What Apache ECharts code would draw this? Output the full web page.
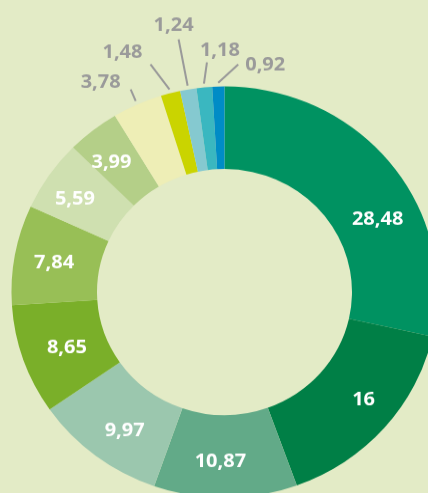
<!DOCTYPE html>
<html>
<head>
<meta charset="utf-8">
<script src="https://cdn.jsdelivr.net/npm/echarts@6/dist/echarts.min.js"></script>
<style>
  html, body { margin: 0; padding: 0; background: #e3ebc6; overflow: hidden; }
  #main { width: 428px; height: 511px; transform: scaleY(0.965); transform-origin: 0 0; }
</style>
</head>
<body>
<div id="main"></div>
<script>
const values = [28.48, 16, 10.87, 9.97, 8.65, 7.84, 5.59, 3.99, 3.78, 1.48, 1.24, 1.18, 0.92];
const colors = ['#009261', '#007f46', '#62aa88', '#9bc7ae', '#7aaf29', '#98bf56', '#cfe0b0',
                '#b4cf88', '#eeeeb6', '#cad400', '#85c9d0', '#3ab7c0', '#008cc6'];

// small slices get a grey label outside: [line dx, line dy, text dx, text dy]
const leaders = {
  8: [-5, -12, -30, -7],
  9: [-19, -26, -28, -12],
  10: [-9, -48, -5, -14],
  11: [3, -22, 13, -12],
  12: [20, -19, 27, 1]
};
const insideShift = {
  0: [18, 33], 1: [9, -3], 2: [-5, 2], 3: [5, 6], 4: [6, 1],
  5: [0, 1], 6: [-7, 2], 7: [-6, 2]
};

function fmt(v) {
  return String(v).replace('.', ',');
}

const chart = echarts.init(document.getElementById('main'), null, { renderer: 'canvas' });

const seriesData = values.map((v, i) => {
  const item = { value: v, itemStyle: { color: colors[i] } };
  if (leaders[i]) {
    item.label = { position: 'outside', color: '#9a9a9a' };
    item.labelLine = { show: true, length: 10, length2: 0, lineStyle: { color: '#9a9a9a', width: 2 } };
  } else if (insideShift[i]) {
    item.label = { offset: insideShift[i] };
  }
  return item;
});

chart.setOption({
  backgroundColor: '#e3ebc6',
  animation: false,
  series: [{
    type: 'pie',
    center: [224.5, 302.6],
    radius: [127.5, 213],
    startAngle: 90,
    clockwise: true,
    avoidLabelOverlap: false,
    silent: true,
    itemStyle: { borderWidth: 0 },
    emphasis: { disabled: true },
    label: {
      show: true,
      position: 'inside',
      color: '#ffffff',
      fontFamily: 'Open Sans',
      fontSize: 20,
      fontWeight: 'bold',
      formatter: p => fmt(p.value)
    },
    labelLine: { show: false },
    labelLayout: function (p) {
      const lead = leaders[p.dataIndex];
      if (!lead || !p.labelLinePoints) return {};
      const a = p.labelLinePoints[0], b = p.labelLinePoints[1];
      const len = Math.hypot(b[0] - a[0], b[1] - a[1]) || 1;
      const sx = a[0] + (b[0] - a[0]) / len * 4;
      const sy = a[1] + (b[1] - a[1]) / len * 4;
      const ex = sx + lead[0], ey = sy + lead[1];
      return {
        x: ex + lead[2],
        y: ey + lead[3],
        align: 'center',
        verticalAlign: 'middle',
        labelLinePoints: [[sx, sy], [ex, ey], [ex, ey]]
      };
    },
    data: seriesData
  }]
});
</script>
</body>
</html>
